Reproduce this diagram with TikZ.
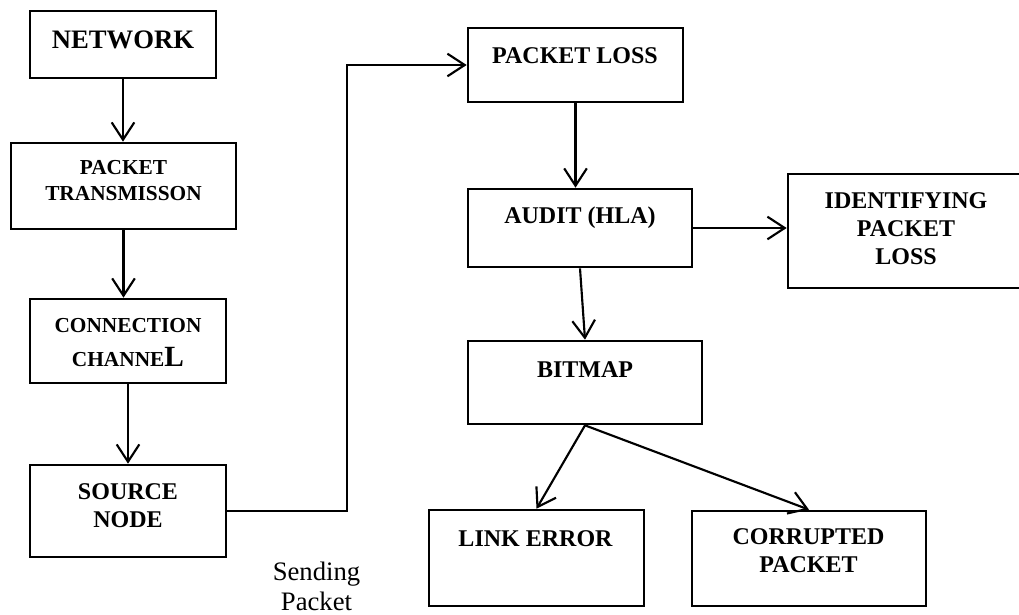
\documentclass[tikz,border=0pt]{standalone}
\usepackage{fontspec}
\setmainfont{Liberation Serif}
\usetikzlibrary{arrows.meta,fit}

\tikzset{
  box/.style={draw, line width=2pt, inner sep=0pt},
  flow/.style={line width=1.6pt, -{Straight Barb[length=13pt,width=17pt]}},
  lbl/.style={font=\bfseries\fontsize{18}{21}\selectfont, align=center, anchor=base, inner sep=0pt},
  small lbl/.style={lbl, font=\bfseries\fontsize{16}{19.3}\selectfont},
}

\begin{document}
\begin{tikzpicture}[x=0.75pt, y=-0.75pt]
  \clip (0,0) rectangle (1019,614);

  % left column
  \node[box, fit={(30,11) (216,78)}] (net) {};
  \node[box, fit={(11,143) (236,229)}] (ptx) {};
  \node[box, fit={(30,299) (226,383)}] (chan) {};
  \node[box, fit={(30,465) (226,557)}] (src) {};

  % right part
  \node[box, fit={(468,28) (683,102)}] (loss) {};
  \node[box, fit={(468,189) (692,267)}] (audit) {};
  \node[box, fit={(788,174) (1030,288)}] (ident) {};
  \node[box, fit={(468,341) (702,424)}] (bitmap) {};
  \node[box, fit={(429,510) (644,606)}] (link) {};
  \node[box, fit={(692,511) (926,606)}] (corrupt) {};

  % labels (base = last line)
  \node[lbl, font=\bfseries\fontsize{20}{23}\selectfont] (netT) at (123,48) {NETWORK};
  \node[small lbl] (ptxT) at (123.5,200) {PACKET\\TRANSMISSON};
  \node[small lbl, font=\bfseries\fontsize{16}{25.5}\selectfont] (chanT) at (128,366)
    {CONNECTION\\CHANNE{\fontsize{22}{25.5}\selectfont L}};
  \node[lbl] (srcT) at (128,527) {SOURCE\\NODE};
  \node[lbl] (lossT) at (575,63) {PACKET LOSS};
  \node[lbl] (auditT) at (580,223) {AUDIT (HLA)};
  \node[lbl] (identT) at (906,264) {IDENTIFYING\\PACKET\\LOSS};
  \node[lbl] (bitmapT) at (585,377) {BITMAP};
  \node[lbl] (linkT) at (535.5,546) {LINK ERROR};
  \node[lbl] (corruptT) at (808.5,572) {CORRUPTED\\PACKET};
  \node[lbl, font=\fontsize{20}{22.5}\selectfont] (sendT) at (316.5,610) {Sending\\Packet};

  % connectors
  \coordinate (bend) at (347,511);
  \draw[flow] (net.south) -- (net.south |- ptx.north);
  \draw[flow] (ptx.south) -- (ptx.south |- chan.north);
  \draw[flow] (chan) -- (src);
  \draw[flow] (src.east) -- (bend) |- (loss.west);
  \draw[flow] (loss.south) -- (loss.south |- audit.north);
  \draw[flow] (audit.east) -- (audit.east -| ident.west);
  \draw[flow] (audit.south) -- (bitmap.north);
  \draw[flow] (bitmap.south) -- (link.north);
  \draw[flow] (bitmap.south) -- (corrupt.north);
\end{tikzpicture}
\end{document}
